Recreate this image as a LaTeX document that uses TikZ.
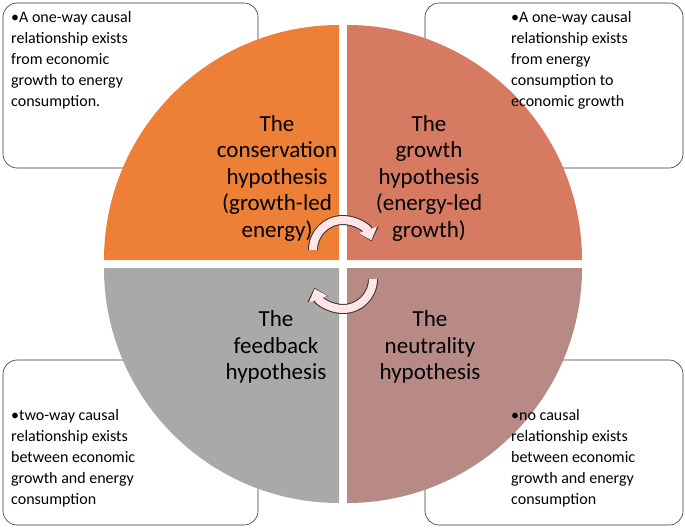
\documentclass[tikz,border=0pt]{standalone}
\usepackage{fontspec}
\setmainfont{Carlito}
\usetikzlibrary{arrows.meta}
\definecolor{consorange}{HTML}{EE7F36}
\definecolor{growred}{HTML}{D67B62}
\definecolor{feedgray}{HTML}{A9A9A9}
\definecolor{neutrose}{HTML}{B88A86}
\tikzset{infobox/.style = {draw=black!80, fill=white, rounded corners=14pt, line width=0.6pt}}
\tikzset{infotext/.style = {anchor=north west, align=left, font=\fontsize{16}{21}\selectfont, inner sep=0pt}}
\tikzset{hyptext/.style = {align=center, font=\fontsize{23}{26.5}\selectfont}}
\tikzset{turn/.style = {line width=8pt, draw=pink!40!white, -{Triangle[length=11pt,width=19pt]}}}
\tikzset{turnedge/.style = {line width=10pt, draw=black!80, -{Triangle[length=12pt,width=21pt]}}}
\begin{document}
\begin{tikzpicture}[x=1pt,y=-1pt]
            \useasboundingbox (0,0) rectangle (685,528);
            % Boxes
            \draw[infobox] (3,3) rectangle (258,168);
            \draw[infobox] (425,3) rectangle (683,168);
            \draw[infobox] (3,360) rectangle (258,525);
            \draw[infobox] (425,360) rectangle (683,525);

            % Quadrants
            \fill[consorange] (339,260) -- ++(-235,0) arc[start angle=180,end angle=270,radius=235] -- cycle;
            \fill[growred] (347,260) -- ++(0,-235) arc[start angle=270,end angle=360,radius=235] -- cycle;
            \fill[feedgray] (339,268) -- ++(0,235) arc[start angle=90,end angle=180,radius=235] -- cycle;
            \fill[neutrose] (347,268) -- ++(235,0) arc[start angle=0,end angle=90,radius=235] -- cycle;

            % Texts
            \node[infotext] (tl) at (11,11) {\textbullet A one-way causal\\relationship exists\\from economic\\growth to energy\\consumption.};
            \node[infotext] (tr) at (511,11) {\textbullet A one-way causal\\relationship exists\\from energy\\consumption to\\economic growth};
            \node[infotext] (bl) at (11,409) {\textbullet two-way causal\\relationship exists\\between economic\\growth and energy\\consumption};
            \node[infotext] (br) at (511,409) {\textbullet no causal\\relationship exists\\between economic\\growth and energy\\consumption};
            \node[hyptext] (cons) at (277,178) {The\\conservation\\hypothesis\\(growth-led\\energy)};
            \node[hyptext] (grow) at (429,178) {The\\growth\\hypothesis\\(energy-led\\growth)};
            \node[hyptext] (feed) at (276,347) {The\\feedback\\hypothesis};
            \node[hyptext] (neut) at (430,347) {The\\neutrality\\hypothesis};

            % Turning arrows
            \coordinate (ua) at (313,250);
            \coordinate (la) at (373,279);
            \draw[turnedge] (ua) arc[start angle=180,end angle=343,radius=30];
            \draw[turn] (ua) arc[start angle=180,end angle=341,radius=30];
            \draw[turnedge] (la) arc[start angle=0,end angle=163,radius=30];
            \draw[turn] (la) arc[start angle=0,end angle=161,radius=30];
        \end{tikzpicture}
\end{document}
